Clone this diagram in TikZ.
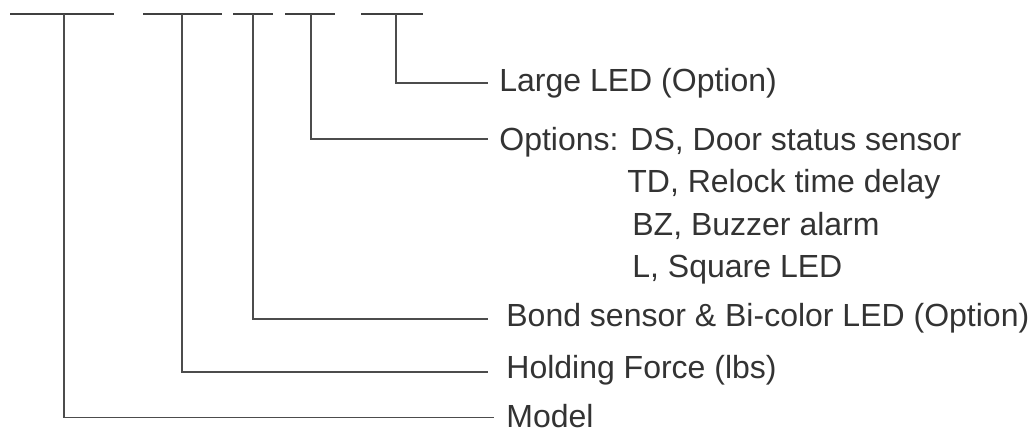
\documentclass[tikz,border=0pt]{standalone}
\usepackage{fontspec}
\setmainfont{Liberation Sans}
\begin{document}
\begin{tikzpicture}[x=0.5pt,y=-0.5pt,
  bar/.style={draw=black!75,line width=1pt},
  lead/.style={draw=black!70,line width=0.8pt},
  lbl/.style={anchor=base west,inner sep=0pt,text=black!80,font=\fontsize{16}{19}\selectfont}]
\useasboundingbox (0,0) rectangle (1035,432);
% top bars
\draw[bar] (10,14) -- (114,14);
\draw[bar] (143,14) -- (222,14);
\draw[bar] (233,14) -- (273,14);
\draw[bar] (285,14) -- (335,14);
\draw[bar] (361,14) -- (423,14);
\coordinate (b1) at (64,14);
\coordinate (b2) at (182,14);
\coordinate (b3) at (253,14);
\coordinate (b4) at (311,14);
\coordinate (b5) at (396,14);
% labels
\node[lbl] (t5) at (499,92) {Large LED (Option)};
\node[lbl] (t4) at (499,151) {Options: DS, Door status sensor};
\node[lbl] (t4b) at (627,193) {TD, Relock time delay};
\node[lbl] (t4c) at (632,236) {BZ, Buzzer alarm};
\node[lbl] (t4d) at (632,278) {L, Square LED};
\node[lbl] (t3) at (506,327) {Bond sensor \& Bi-color LED (Option)};
\node[lbl] (t2) at (506,379) {Holding Force (lbs)};
\node[lbl] (t1) at (506,428) {Model};
% leaders
\draw[lead] (b5) |- ([xshift=-11pt*0.5,yshift=0.5pt]t5.west);
\draw[lead] (b4) |- ([xshift=-11pt*0.5,yshift=2pt]t4.west);
\draw[lead] (b3) |- ([xshift=-18pt*0.5]t3.west);
\draw[lead] (b2) |- ([xshift=-18pt*0.5,yshift=-0.5pt]t2.west);
\draw[lead] (b1) |- ([xshift=-12pt*0.5,yshift=-0.5pt]t1.west);
\end{tikzpicture}
\end{document}
